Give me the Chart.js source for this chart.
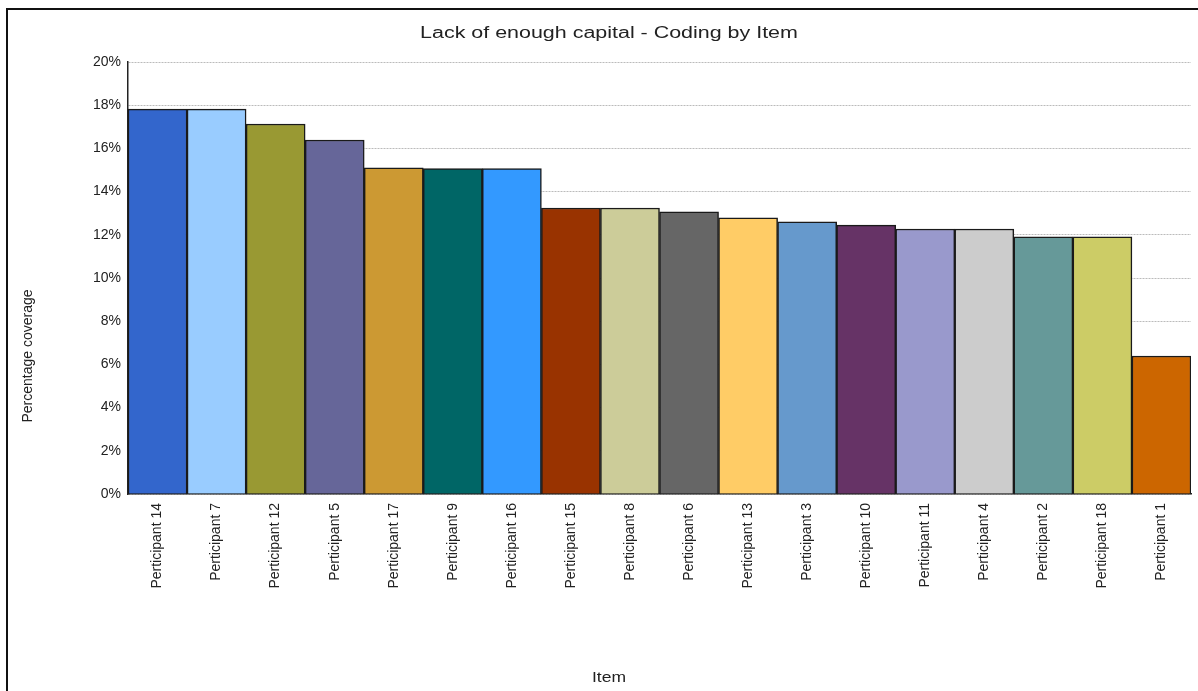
<!DOCTYPE html>
<html>
<head>
<meta charset="utf-8">
<script src="https://cdn.jsdelivr.net/npm/chart.js@4/dist/chart.umd.min.js"></script>
<style>
  body { margin: 0; background: #fff; overflow: hidden; }
  #frame { position: absolute; left: 6px; top: 8px; width: 1400px; height: 900px; border: 2px solid #111; }
  #chart { position: absolute; left: 0; top: 0; }
</style>
</head>
<body>
<div id="frame"></div>
<canvas id="chart" width="1198" height="691"></canvas>
<script>
// categories, sorted by coverage (spelling as in the source chart)
const participants = [
  'Perticipant 14', 'Perticipant 7', 'Perticipant 12', 'Perticipant 5', 'Perticipant 17',
  'Perticipant 9', 'Perticipant 16', 'Perticipant 15', 'Perticipant 8', 'Perticipant 6',
  'Perticipant 13', 'Perticipant 3', 'Perticipant 10', 'Perticipant 11', 'Perticipant 4',
  'Perticipant 2', 'Perticipant 18', 'Perticipant 1'
];
// percentage coverage
const coverage = [17.82, 17.82, 17.13, 16.39, 15.1, 15.07, 15.07, 13.24, 13.24, 13.06,
  12.78, 12.6, 12.45, 12.27, 12.27, 11.91, 11.91, 6.39];
const barColors = [
  '#3366CC', '#99CCFF', '#999933', '#666699', '#CC9933', '#006666', '#3399FF', '#993300',
  '#CCCC99', '#666666', '#FFCC66', '#6699CC', '#663366', '#9999CC', '#CCCCCC', '#669999',
  '#CCCC66', '#CC6600'
];
const yTicks = [0, 2, 4, 6, 8, 10, 12, 14, 16, 18, 20];

const chartTitle = 'Lack of enough capital - Coding by Item';
const xTitle = 'Item';
const yTitle = 'Percentage coverage';

const font = 'Liberation Sans, Arial, sans-serif';

// the source renders its horizontal text wide, so draw titles stretched
function wideText(c, text, x, y, size, stretch) {
  c.save();
  c.font = size + 'px ' + font;
  c.fillStyle = '#222';
  c.textAlign = 'center';
  c.textBaseline = 'alphabetic';
  c.translate(x, y);
  c.scale(stretch, 1);
  c.fillText(text, 0, 0);
  c.restore();
}

const titles = {
  id: 'titles',
  afterDraw(chart) {
    const c = chart.ctx;
    wideText(c, chartTitle, 609, 38, 16, 1.34);
    wideText(c, xTitle, 609, 682, 14, 1.25);
    c.save();
    c.font = '14px ' + font;
    c.fillStyle = '#222';
    c.textAlign = 'center';
    c.textBaseline = 'middle';
    c.translate(28, 356);
    c.rotate(-Math.PI / 2);
    c.fillText(yTitle, 0, 0);
    c.restore();
  }
};

const ctx = document.getElementById('chart').getContext('2d');

new Chart(ctx, {
  type: 'bar',
  data: {
    labels: participants,
    datasets: [{
      data: coverage,
      backgroundColor: barColors,
      borderColor: '#1a1a1a',
      borderWidth: 1.5,
      barPercentage: 1,
      categoryPercentage: 1
    }]
  },
  plugins: [titles],
  options: {
    responsive: false,
    animation: false,
    layout: { padding: { left: 0, right: 7, top: 62, bottom: 0 } },
    plugins: {
      legend: { display: false },
      tooltip: { enabled: false },
      title: { display: false }
    },
    scales: {
      x: {
        grid: { display: false },
        border: { display: true, color: '#222', width: 1.5 },
        ticks: {
          color: '#222',
          font: { family: font, size: 14 },
          minRotation: 90,
          maxRotation: 90,
          autoSkip: false,
          padding: 1
        },
        afterFit: function(scale) { scale.height = 197; }
      },
      y: {
        min: 0,
        max: 20,
        afterBuildTicks: function(scale) {
          scale.ticks = yTicks.map(v => ({ value: v }));
        },
        grid: { color: '#bbbbbb', lineWidth: 1, drawTicks: false },
        border: { display: true, color: '#222', width: 1.5, dash: [2, 1] },
        ticks: {
          color: '#222',
          font: { family: font, size: 14 },
          padding: 7,
          callback: v => v + '%'
        },
        afterFit: function(scale) { scale.width = 128; }
      }
    }
  }
});
</script>
</body>
</html>
